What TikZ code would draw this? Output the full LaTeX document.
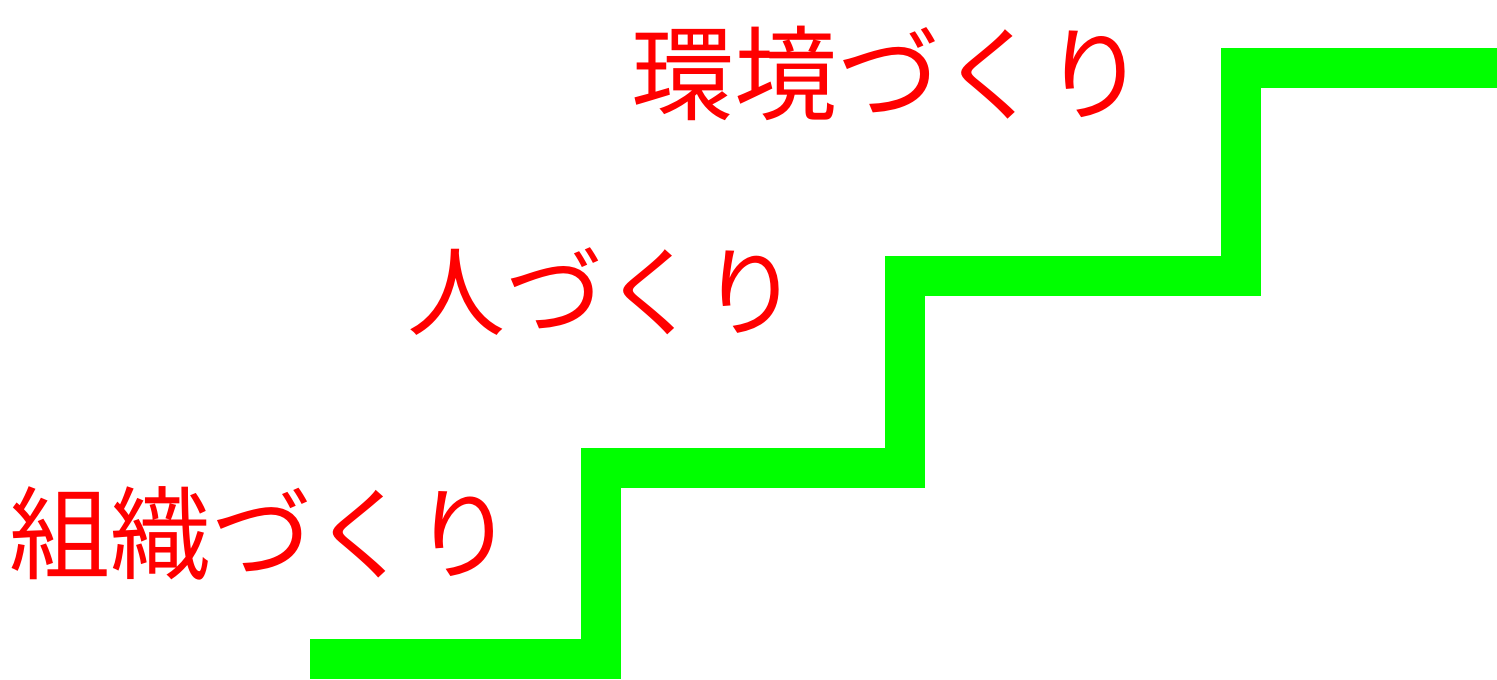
\documentclass[tikz,border=0pt]{standalone}
\usepackage{fontspec}
\newfontfamily\cjk{Noto Sans CJK JP}
\definecolor{stairgreen}{RGB}{0,255,0}
\definecolor{labelred}{RGB}{255,0,0}
\tikzset{steplabel/.style={text=labelred,inner sep=0pt}}
\newcommand{\labelfont}[1]{\cjk\fontsize{#1}{#1}\selectfont}
\begin{document}
\begin{tikzpicture}[x=0.5pt,y=-0.5pt]
				\useasboundingbox (0,0) rectangle (1497,679);
				
				\draw[stairgreen,line width=20pt] (310,659) -- (601,659) -- (601,468) -- (905,468) -- (905,276) -- (1241,276) -- (1241,68) -- (1497,68);
				
				\node[steplabel,font=\labelfont{51.5}] (env) at (889,73) {環境づくり};
				\node[steplabel,font=\labelfont{49}] (people) at (603,292) {人づくり};
				\node[steplabel,font=\labelfont{50.5}] (org) at (262,533) {組織づくり};
			\end{tikzpicture}
\end{document}
